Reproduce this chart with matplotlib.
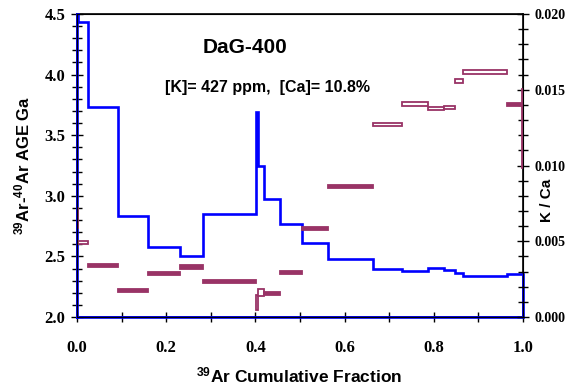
import numpy as np
import matplotlib
matplotlib.use('Agg')
import matplotlib.pyplot as plt

# step boundaries (39Ar cumulative fraction)
edges = [0.0, 0.002, 0.025, 0.092, 0.160, 0.231, 0.282, 0.402, 0.406, 0.419,
         0.455, 0.505, 0.563, 0.664, 0.728, 0.787, 0.822, 0.848, 0.866, 0.963,
         0.998, 1.0]
# apparent age per step, Ga
ages = [4.60, 4.43, 3.73, 2.833, 2.58, 2.506, 2.852, 3.69, 3.25, 2.97,
        2.77, 2.613, 2.478, 2.396, 2.382, 2.401, 2.388, 2.366, 2.341, 2.352,
        2.352]
# K/Ca per step and half-height of error box
kca = [0.00655, 0.00493, 0.00337, 0.00178, 0.00288, 0.00330, 0.00233, 0.00094,
       0.00160, 0.00152, 0.00295, 0.00585, 0.00860, 0.01270, 0.01404, 0.01377,
       0.01384, 0.01558, 0.01617, 0.01404, 0.01243]
kca_err = [0.00065, 0.00012, 0.0001, 0.0001, 0.0001, 0.0001, 0.0001, 0.0005,
           0.00022, 0.0001, 0.0001, 0.0001, 0.0001, 0.00012, 0.00012, 0.00012,
           0.00012, 0.00012, 0.00012, 0.0001, 0.0026]

plt.rcParams['mathtext.fontset'] = 'custom'
plt.rcParams['mathtext.rm'] = 'Liberation Sans:bold'
plt.rcParams['mathtext.it'] = 'Liberation Sans:bold'
plt.rcParams['mathtext.bf'] = 'Liberation Sans:bold'

blue = '#0000ff'
mag = '#993366'
sans = 'Liberation Sans'
tickfont = dict(fontfamily='Liberation Serif', fontweight='bold', fontsize=12)
rtickfont = dict(fontfamily='Liberation Serif', fontweight='bold', fontsize=10)

fig = plt.figure(figsize=(5.65, 3.85), dpi=100)
ax = fig.add_axes([0.1363, 0.1766, 0.7894, 0.787])

# age spectrum outline, closed down to the axis floor
e = np.array(edges)
a = np.array(ages)
xs = np.concatenate([[e[0]], np.repeat(e, 2)[1:-1], [e[-1], e[0]]])
ys = np.concatenate([[2.0], np.repeat(a, 2), [2.0, 2.0]])
ax.plot(xs, np.minimum(ys, 4.5), color=blue, lw=1.9, clip_on=False,
        solid_joinstyle='miter', zorder=3)

ax.set_xlim(0, 1)
ax.set_ylim(2.0, 4.5)
xt = np.arange(0, 1.01, 0.2)
ax.set_xticks(xt, labels=[f'{t:.1f}' for t in xt], **tickfont)
ax.set_xticks(np.arange(0, 1.01, 0.1), minor=True)
yt = np.arange(2.0, 4.51, 0.5)
ax.set_yticks(yt, labels=[f'{t:.1f}' for t in yt], **tickfont)
ax.set_yticks(np.arange(2.0, 4.51, 0.1), minor=True)
ax.tick_params(which='both', direction='inout', top=False, right=False, width=1)
ax.tick_params(axis='y', which='major', length=9, pad=4)
ax.tick_params(axis='y', which='minor', length=7)
ax.tick_params(axis='x', which='both', length=7, pad=13)
for s in ax.spines.values():
    s.set_linewidth(1.2)

# K/Ca boxes on right axis
ax2 = ax.twinx()
k = np.array(kca)
ke = np.array(kca_err)
face = [mag if err <= 0.0001 else 'white' for err in kca_err]
ax2.bar(e[:-1], 2 * ke, width=np.diff(e), bottom=k - ke, align='edge',
        facecolor=face, edgecolor=mag, linewidth=1.3, zorder=2)
ax2.set_ylim(0, 0.020)
rt = np.arange(0, 0.0201, 0.005)
ax2.set_yticks(rt, labels=[f'{t:.3f}' for t in rt], **rtickfont)
ax2.set_yticks(np.arange(0, 0.0201, 0.001), minor=True)
ax2.tick_params(which='both', direction='inout', width=1)
ax2.tick_params(which='major', length=9, pad=4)
ax2.tick_params(which='minor', length=7)

ax.set_xlabel(r'$^{39}$Ar Cumulative Fraction', fontsize=12.5, fontweight='bold', family=sans)
ax.xaxis.set_label_coords(0.498, -0.16)
ax.set_ylabel(r'$^{39}$Ar-$^{40}$Ar AGE Ga', fontsize=12, fontweight='bold', family=sans)
ax.yaxis.set_label_coords(-0.101, 0.5)
ax2.set_ylabel('K / Ca', fontsize=11, fontweight='bold', family=sans)
ax2.yaxis.set_label_coords(1.038, 0.386)

ax.text(0.377, 4.22, 'DaG-400', ha='center', va='center', fontsize=15,
        fontweight='bold', family=sans)
ax.text(0.428, 3.89, '[K]= 427 ppm,  [Ca]= 10.8%', ha='center', va='center',
        fontsize=11.5, fontweight='bold', family=sans)

fig.savefig('out.png', dpi=100)
